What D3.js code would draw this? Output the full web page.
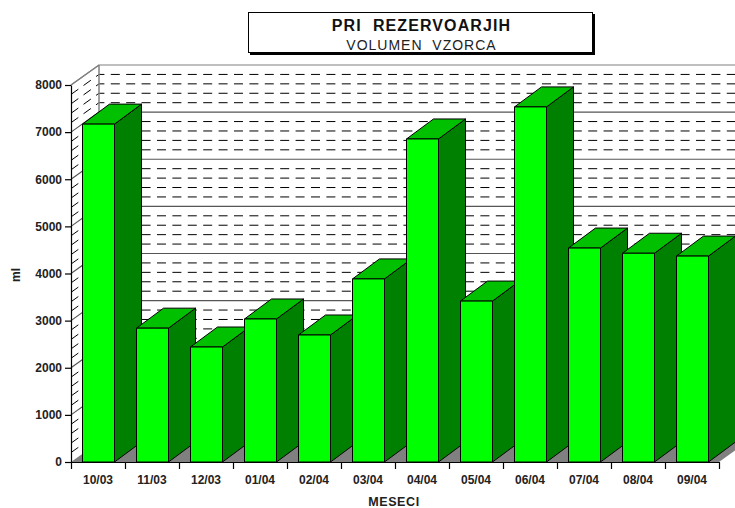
<!DOCTYPE html>
<html><head><meta charset="utf-8">
<script src="https://cdn.jsdelivr.net/npm/d3@7"></script>
<style>html,body{margin:0;padding:0;background:#fff;overflow:hidden}svg{display:block}text{font-family:"Liberation Sans",Arial,sans-serif}</style>
</head><body><svg id="c" width="735" height="508"></svg>
<script>
const categories=["10/03","11/03","12/03","01/04","02/04","03/04","04/04","05/04","06/04","07/04","08/04","09/04"];
const values=[7170,2840,2440,3035,2695,3885,6855,3415,7535,4540,4430,4370];
const yTickValues=[0,1000,2000,3000,4000,5000,6000,7000,8000];
const minorStep=200;
const titleText="PRI  REZERVOARJIH";
const subtitleText="VOLUMEN  VZORCA";
const xTitle="MESECI";
const yTitle="ml";

const svg=d3.select("#c");
const L=71,R=719,Y0=462,Y1=85,wallDx=28,wallDy=20,barDx=27,barDy=20;
const x=d3.scaleBand().domain(categories).range([L,R]).paddingInner(22/54).paddingOuter(11/54);
const y=d3.scaleLinear().domain([0,8000]).range([Y0,Y1]);
const xEdge=d3.scaleLinear().domain([0,categories.length]).range([L,R]);
const line=d3.line();

// floor
svg.append("polygon").attr("fill","#808080")
  .attr("points",[[L,Y0],[L+wallDx,Y0-wallDy],[R+wallDx,Y0-wallDy],[R,Y0]].join(" "));

// walls + grid
const levels=d3.range(0,8000+minorStep,minorStep);
const gridG=svg.append("g").attr("fill","none");
gridG.selectAll("path").data(levels.filter(v=>v>0)).join("path")
  .attr("d",v=>line([[L,y(v)],[L+wallDx,y(v)-wallDy],[R+wallDx,y(v)-wallDy]]))
  .attr("stroke",v=>v===8000?"#808080":(v%1000===0?"#555":"#000"))
  .attr("stroke-width",v=>v%1000===0?1.2:1)
  .attr("stroke-dasharray",v=>v%1000===0?null:"9 6.4");
svg.append("line").attr("x1",L+wallDx).attr("x2",L+wallDx)
  .attr("y1",Y0-wallDy).attr("y2",Y1-wallDy).attr("stroke","#808080").attr("stroke-width",1.5);
svg.append("line").attr("x1",L).attr("x2",L+wallDx)
  .attr("y1",Y1).attr("y2",Y1-wallDy).attr("stroke","#808080").attr("stroke-width",1.2);

// bars
const bars=svg.selectAll("g.bar").data(categories.map((c,i)=>({c,v:values[i]}))).join("g").attr("class","bar")
  .attr("stroke","#000").attr("stroke-width",1).attr("stroke-linejoin","round");
const bx=d=>x(d.c)+0.5, bw=x.bandwidth();
bars.append("polygon").attr("fill","#008000")
  .attr("points",d=>[[bx(d)+bw,Y0],[bx(d)+bw+barDx,Y0-barDy],[bx(d)+bw+barDx,y(d.v)-barDy],[bx(d)+bw,y(d.v)]].join(" "));
bars.append("polygon").attr("fill","#00c000")
  .attr("points",d=>[[bx(d),y(d.v)],[bx(d)+barDx,y(d.v)-barDy],[bx(d)+bw+barDx,y(d.v)-barDy],[bx(d)+bw,y(d.v)]].join(" "));
bars.append("rect").attr("fill","#00ff00")
  .attr("x",bx).attr("y",d=>y(d.v)).attr("width",bw).attr("height",d=>Y0-y(d.v));

// axes
const font=g=>g.selectAll("text").attr("font-size",12).attr("font-weight","bold").attr("fill","#222");
const yAxis=svg.append("g").attr("transform",`translate(${L},0)`)
  .call(d3.axisLeft(y).tickValues(yTickValues).tickFormat(d3.format("d")).tickSize(6).tickPadding(3).tickSizeOuter(0));
yAxis.call(font);
yAxis.selectAll("path,line").attr("stroke","#000").attr("stroke-width",1.2);
const xTicks=svg.append("g").attr("transform",`translate(0,${Y0})`)
  .call(d3.axisBottom(xEdge).tickValues(d3.range(0,categories.length+1)).tickFormat("").tickSize(7).tickSizeOuter(0));
xTicks.selectAll("path,line").attr("stroke","#000").attr("stroke-width",1.2);
const xLabels=svg.append("g").attr("transform",`translate(0,${Y0})`)
  .call(d3.axisBottom(x).tickSize(0).tickPadding(13));
xLabels.select("path").remove();
xLabels.call(font);

svg.append("text").attr("x",394).attr("y",506).attr("text-anchor","middle")
  .attr("font-size",12.5).attr("font-weight","bold").attr("letter-spacing",0.6).attr("fill","#222").text(xTitle);
svg.append("text").attr("transform","translate(20,275) rotate(-90)").attr("text-anchor","middle")
  .attr("font-size",12).attr("font-weight","bold").attr("fill","#222").text(yTitle);

// title box
svg.append("rect").attr("x",250).attr("y",14).attr("width",345).attr("height",41).attr("fill","#000");
svg.append("rect").attr("x",248.5).attr("y",12.5).attr("width",344).attr("height",40).attr("fill","#fff").attr("stroke","#000").attr("stroke-width",1);
svg.append("text").attr("x",421.5).attr("y",31).attr("text-anchor","middle").attr("font-size",16).attr("font-weight","bold").attr("letter-spacing",1.1).attr("fill","#111").style("white-space","pre").text(titleText);
svg.append("text").attr("x",421.5).attr("y",50).attr("text-anchor","middle").attr("font-size",14).attr("letter-spacing",1).attr("fill","#222").style("white-space","pre").text(subtitleText);
</script></body></html>
